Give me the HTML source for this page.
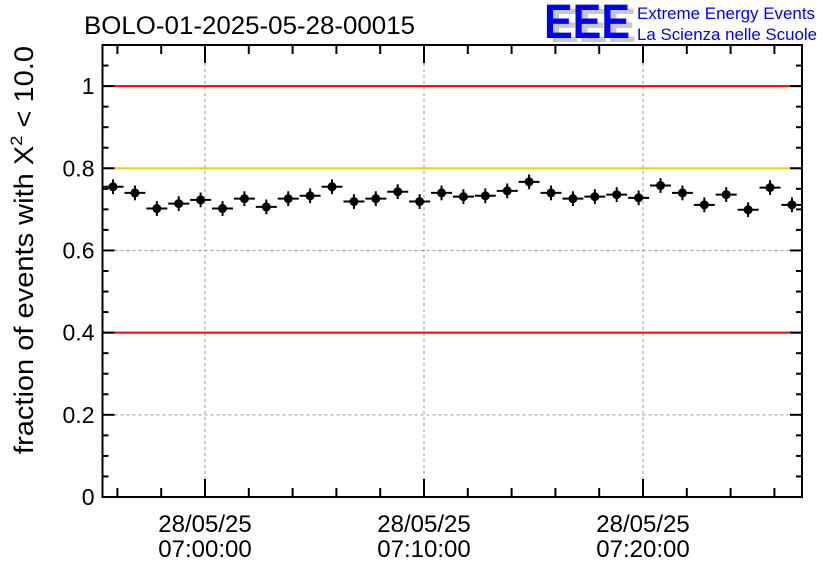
<!DOCTYPE html>
<html><head><meta charset="utf-8"><style>
html,body{margin:0;padding:0;background:#fff;}
svg{display:block;font-family:"Liberation Sans",sans-serif;}
</style></head><body>
<svg id="chart" width="836" height="572" viewBox="0 0 836 572">
<text x="84" y="34" font-size="25" textLength="331" lengthAdjust="spacingAndGlyphs">BOLO-01-2025-05-28-00015</text>
<g>
<text x="550" y="42" font-size="48" font-weight="bold" fill="#c8c8c8" textLength="86" lengthAdjust="spacingAndGlyphs">EEE</text>
<text x="544" y="38" font-size="48" font-weight="bold" fill="#0000ff" textLength="86" lengthAdjust="spacingAndGlyphs">EEE</text>
<text x="637" y="19" font-size="17" fill="#0000ff" textLength="178" lengthAdjust="spacingAndGlyphs">Extreme Energy Events</text>
<text x="637" y="40" font-size="17" fill="#0000ff" textLength="180" lengthAdjust="spacingAndGlyphs">La Scienza nelle Scuole</text>
</g>
<text transform="translate(33,250) rotate(-90)" text-anchor="middle" font-size="27" textLength="408" lengthAdjust="spacingAndGlyphs">fraction of events with X<tspan font-size="17" dy="-11">2</tspan><tspan dy="11"> &lt; 10.0</tspan></text>
<g id="plot"></g>
</svg>
<script>
const yTicks=[0,0.2,0.4,0.6,0.8,1];
const yTickLabels=["0","0.2","0.4","0.6","0.8","1"];
const xTickMinutes=[0,10,20];
const xTickLabels=["07:00:00","07:10:00","07:20:00"];
const xDateLabel="28/05/25";
const refLines=[1.0,0.8,0.4];
const refColors=["#ff0000","#ffcc00","#ff0000"];
const binMinutes=[-4.2,-3.2,-2.2,-1.2,-0.2,0.8,1.8,2.8,3.8,4.8,5.8,6.8,7.8,8.8,9.8,10.8,11.8,12.8,13.8,14.8,15.8,16.8,17.8,18.8,19.8,20.8,21.8,22.8,23.8,24.8,25.8,26.8];
const fractions=[0.755,0.740,0.702,0.714,0.723,0.702,0.726,0.706,0.726,0.733,0.755,0.719,0.726,0.743,0.719,0.740,0.731,0.733,0.745,0.767,0.740,0.726,0.731,0.736,0.728,0.758,0.740,0.711,0.736,0.699,0.753,0.711];
const errors=[0.018,0.018,0.018,0.018,0.018,0.018,0.018,0.018,0.018,0.018,0.018,0.018,0.018,0.018,0.018,0.018,0.018,0.018,0.018,0.018,0.018,0.018,0.018,0.018,0.018,0.018,0.018,0.018,0.018,0.018,0.018,0.018];

const L=102.5,R=802,T=45,B=497;
const yMax=1.1;
const y=v=>B-(v/yMax)*(B-T);
const pxPerMin=21.9, x0=205;
const x=m=>x0+m*pxPerMin;
const mMin=(L-x0)/pxPerMin, mMax=(R-x0)/pxPerMin;
const g=document.getElementById('plot');
const NS="http://www.w3.org/2000/svg";
function mk(tag,attrs,parent){const e=document.createElementNS(NS,tag);for(const k in attrs)e.setAttribute(k,attrs[k]);(parent||g).appendChild(e);return e;}

yTicks.forEach(v=>{if(v>0&&v<1){const l=mk('line',{x1:L,x2:R,y1:y(v),y2:y(v),stroke:'#999','stroke-dasharray':'3,3','stroke-width':1});

}});
xTickMinutes.forEach(m=>{const l=mk('line',{x1:x(m),x2:x(m),y1:T,y2:B,stroke:'#999','stroke-dasharray':'3,3','stroke-width':1});

});
refLines.forEach((v,i)=>{const l=mk('line',{x1:L,x2:R,y1:y(v),y2:y(v),stroke:refColors[i],'stroke-width':2});

});
const fr=mk('rect',{x:L,y:T,width:R-L,height:B-T,fill:'none',stroke:'#000','stroke-width':2});


for(let v=0;v<=yMax+1e-9;v+=0.05){const maj=Math.abs(v*5-Math.round(v*5))<1e-6;const len=maj?12:6;
mk('line',{x1:L,x2:L+len,y1:y(v),y2:y(v),stroke:'#000','stroke-width':2});
mk('line',{x1:R,x2:R-len,y1:y(v),y2:y(v),stroke:'#000','stroke-width':2});}
yTicks.forEach((v,i)=>{const t=mk('text',{x:L-8,y:y(v)+8,'text-anchor':'end','font-size':23});t.textContent=yTickLabels[i];

});
for(let m=-4;m<=mMax;m+=2){if(m<mMin)continue;const maj=(m%10===0);const len=maj?18:9;
mk('line',{x1:x(m),x2:x(m),y1:B,y2:B-len,stroke:'#000','stroke-width':2});
mk('line',{x1:x(m),x2:x(m),y1:T,y2:T+len,stroke:'#000','stroke-width':2});}
xTickMinutes.forEach((m,i)=>{const t1=mk('text',{x:x(m),y:532,'text-anchor':'middle','font-size':24});t1.textContent=xDateLabel;


const t2=mk('text',{x:x(m),y:557,'text-anchor':'middle','font-size':24});t2.textContent=xTickLabels[i];

});
binMinutes.forEach((m,i)=>{const cx=x(m),cy=y(fractions[i]);const pg=mk('g',{});


mk('line',{x1:cx-10.5,x2:cx+10.5,y1:cy,y2:cy,stroke:'#000','stroke-width':2},pg);
mk('line',{x1:cx,x2:cx,y1:y(fractions[i]+errors[i]),y2:y(fractions[i]-errors[i]),stroke:'#000','stroke-width':2},pg);
mk('circle',{cx:cx,cy:cy,r:4.5,fill:'#000'},pg);});
</script>
</body></html>
